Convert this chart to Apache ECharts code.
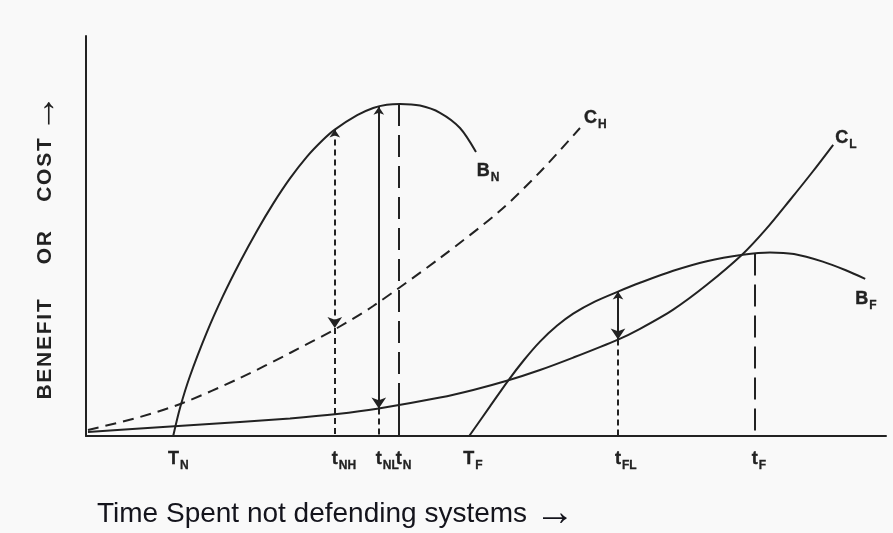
<!DOCTYPE html>
<html>
<head>
<meta charset="utf-8">
<script src="https://cdn.jsdelivr.net/npm/echarts@6/dist/echarts.min.js"></script>
<style>
  html, body { margin: 0; padding: 0; background: #f9f9f9; }
  #chart { width: 893px; height: 533px; }
</style>
</head>
<body>
<div id="chart"></div>
<script>
// curves, x and y in 0..100 units
const benefitN = [[10.9, 0], [11.75, 7], [13, 15], [15.1, 25.9], [17.1, 34.9], [19.25, 43.5], [21.4, 51.4],
  [23.4, 58.1], [25.5, 64.4], [27.6, 69.8], [29.6, 74], [31.1, 76.6], [33.9, 80.2], [35.9, 82], [37.6, 82.8],
  [39.25, 83], [41.75, 82.6], [44.25, 80.8], [46.75, 77], [48.75, 71]];
const costH = [[0.25, 1.5], [6.75, 4.75], [12.1, 8.25], [19.25, 14.5], [25.5, 20.75], [31.4, 27], [35.9, 32.5],
  [44.25, 44.5], [51.75, 56.3], [56.75, 66], [61.75, 77]];
const costL = [[0.25, 1], [6.75, 1.85], [12.5, 2.6], [19.25, 3.5], [25.5, 4.4], [31.4, 5.5], [36.4, 6.8],
  [44.25, 9.6], [48.4, 11.5], [52.6, 13.8], [56.75, 16.5], [60.9, 19.6], [66.5, 24.1], [69.25, 26.8],
  [73.4, 31.6], [77.6, 37.8], [82.1, 45.5], [85, 51.7], [88, 59], [90.8, 66], [93.4, 72.8]];
const benefitF = [[47.9, 0], [50.5, 7.4], [52.75, 13.8], [54.75, 19], [56.75, 23.6], [58.9, 27.6], [60.9, 30.6],
  [63.6, 33.6], [66.5, 36.1], [69.25, 38.3], [73.4, 41.3], [77.6, 43.7], [82.1, 45.3], [85.5, 45.9],
  [88.5, 45.5], [92.1, 43.6], [94.9, 41.5], [97.4, 39.3]];

// vertical markers: [x, from, to]
const arrowsSolid = [[36.6, 82.3, 6.9], [66.5, 36.1, 24.1]];
const arrowsDashed = [[31.1, 76.6, 27]];
const dropsShortDash = [[31.1, 27, 0], [36.6, 6.9, 0], [66.5, 24.1, 0]];
const dropsLongDash = [[39.1, 83, 7.5], [83.6, 45.6, 0]];
const dropsSolid = [[39.1, 7.5, 0]];

// tick labels under the axis: [main, subscript, x]
const tickLabels = [['T', 'N', 11], ['t', 'NH', 31.1], ['t', 'NL', 36.6], ['t', 'N', 39.1],
  ['T', 'F', 47.9], ['t', 'FL', 66.5], ['t', 'F', 83.6]];
// curve names: [main, subscript, x, y]
const curveLabels = [['B', 'N', 49.6, 67], ['C', 'H', 63, 80.25], ['C', 'L', 94.4, 75.25], ['B', 'F', 96.9, 35]];

const ink = '#222222';
const font = 'Liberation Sans';

const rich = {
  m: { fontSize: 18, fontWeight: 'bold', color: ink, fontFamily: font, lineHeight: 22, verticalAlign: 'top',
    textBorderColor: ink, textBorderWidth: 0.4 },
  s: { fontSize: 12, fontWeight: 'bold', color: ink, fontFamily: font, lineHeight: 14, verticalAlign: 'bottom',
    padding: [15, 0, 0, 1], textBorderColor: ink, textBorderWidth: 0.3 }
};

function segs(list) {
  return list.map(d => ({ coords: [[d[0], d[1]], [d[0], d[2]]] }));
}

function curve(data, type) {
  return {
    type: 'line', data: data, smooth: 0.3, showSymbol: false, silent: true,
    lineStyle: { color: ink, width: 2, type: type || 'solid' }
  };
}

function labelSeries(data) {
  return {
    type: 'scatter', symbolSize: 0, silent: true, itemStyle: { color: ink },
    data: data,
    label: {
      show: true, align: 'left', verticalAlign: 'top', color: ink, opacity: 1, rich: rich,
      formatter: p => '{m|' + p.data.main + '}{s|' + p.data.sub + '}'
    }
  };
}

let chart = echarts.init(document.getElementById('chart'));
let option = {
  backgroundColor: '#f9f9f9',
  animation: false,
  title: {
    text: 'Time Spent not defending systems {a|\u2192}',
    left: 92, top: 489,
    textStyle: {
      fontSize: 28, fontWeight: 'normal', color: '#14141c', fontFamily: font,
      rich: { a: { fontSize: 40, fontWeight: 'bold', color: '#14141c', fontFamily: font } }
    }
  },
  grid: { left: 86, top: 36, width: 800, height: 400 },
  xAxis: {
    type: 'value', min: 0, max: 100,
    axisLine: { lineStyle: { color: ink, width: 2 } },
    axisTick: { show: false }, axisLabel: { show: false }, splitLine: { show: false }
  },
  yAxis: {
    type: 'value', min: 0, max: 100,
    axisLine: { show: true, lineStyle: { color: ink, width: 2 } },
    axisTick: { show: false }, axisLabel: { show: false }, splitLine: { show: false }
  },
  graphic: [{
    type: 'text', x: 45, y: 247, rotation: Math.PI / 2,
    style: {
      text: '{t|B\u200aE\u200aN\u200aE\u200aF\u200aI\u200aT      O\u200aR     C\u200aO\u200aS\u200aT }{a|\u2192}',
      align: 'center', verticalAlign: 'middle',
      rich: {
        t: { fill: ink, fontSize: 21, fontWeight: 'bold', fontFamily: font },
        a: { fill: ink, fontSize: 38, fontWeight: 'bold', fontFamily: font }
      }
    }
  }],
  series: [
    curve(benefitN),
    curve(costH, [11, 7]),
    curve(costL),
    curve(benefitF),
    {
      type: 'lines', coordinateSystem: 'cartesian2d', silent: true,
      symbol: ['arrow', 'arrow'], symbolSize: [8, 11],
      lineStyle: { color: ink, width: 2, opacity: 1 },
      data: segs(arrowsSolid)
    },
    {
      type: 'lines', coordinateSystem: 'cartesian2d', silent: true,
      symbol: ['arrow', 'arrow'], symbolSize: [8, 11],
      lineStyle: { color: ink, width: 2, opacity: 1, type: [6, 4] },
      data: segs(arrowsDashed)
    },
    {
      type: 'lines', coordinateSystem: 'cartesian2d', silent: true, symbol: 'none',
      lineStyle: { color: ink, width: 2, opacity: 1, type: [6, 4] },
      data: segs(dropsShortDash)
    },
    {
      type: 'lines', coordinateSystem: 'cartesian2d', silent: true, symbol: 'none',
      lineStyle: { color: ink, width: 2, opacity: 1, type: [22, 9] },
      data: segs(dropsLongDash)
    },
    {
      type: 'lines', coordinateSystem: 'cartesian2d', silent: true, symbol: 'none',
      lineStyle: { color: ink, width: 2, opacity: 1 },
      data: segs(dropsSolid)
    },
    labelSeries(tickLabels.map(d => ({
      value: [d[2], 0], main: d[0], sub: d[1],
      label: { position: [d[0] === 'T' ? -6 : -3, 14] }
    }))),
    labelSeries(curveLabels.map(d => ({
      value: [d[2], d[3]], main: d[0], sub: d[1],
      label: { position: [-6, -6] }
    })))
  ]
};
chart.setOption(option);
</script>
</body>
</html>
